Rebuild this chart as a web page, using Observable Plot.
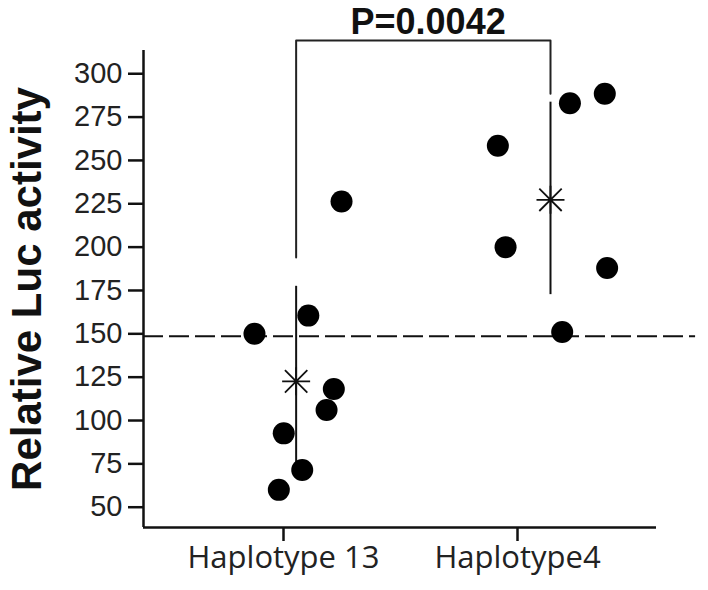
<!DOCTYPE html>
<html>
<head>
<meta charset="utf-8">
<script src="https://cdn.jsdelivr.net/npm/d3@7"></script>
<script src="https://cdn.jsdelivr.net/npm/@observablehq/plot@0.6"></script>
<style>
  html, body { margin: 0; padding: 0; background: #fff; }
  #chart svg { display: block; }
</style>
</head>
<body>
<div id="chart"></div>
<script>
// ---- data ----
const categories = ["Haplotype 13", "Haplotype4"];
const tickPositions = [1, 2];

const hap13Values = [160.5, 150, 118.2, 106.1, 92.6, 71.5, 60, 226.3];
const hap13X      = [1.106, 0.876, 1.215, 1.184, 1.001, 1.080, 0.980, 1.248];
const hap4Values  = [283, 288.5, 258.5, 200, 188, 151];
const hap4X       = [2.224, 2.373, 1.916, 1.949, 2.383, 2.191];

const groupCenters = [1.054, 2.141];
const means   = [122.6, 227.3];
const errLow  = [75.1, 172.6];
const errHigh = [177.4, 283.6];

const bracketTop = 319.2;
const bracketLegEnds = [194, 288.5];
const pLabel = "P=0.0042";
const pLabelX = 1.618;
const pLabelY = 329.5;

const refLineValue = 148.6;
const refLineEnd = 2.761;

const yTicks = [50, 75, 100, 125, 150, 175, 200, 225, 250, 275, 300];
const yDomain = [38.3, 313.4];
const xDomain = [0.4017, 2.594];
const yTitle = "Relative Luc activity";

// ---- derived tables ----
const points = [
  ...hap13Values.map((v, i) => ({x: hap13X[i], y: v})),
  ...hap4Values.map((v, i) => ({x: hap4X[i], y: v}))
];
const summary = groupCenters.map((c, i) => ({x: c, mean: means[i], lo: errLow[i], hi: errHigh[i]}));
const bracket = [
  {x: groupCenters[0], y: bracketLegEnds[0]},
  {x: groupCenters[0], y: bracketTop},
  {x: groupCenters[1], y: bracketTop},
  {x: groupCenters[1], y: bracketLegEnds[1]}
];

// 8-armed asterisk symbol
const star8 = {
  draw(context, size) {
    const r = Math.sqrt(size / Math.PI);
    const d = r * 0.8;
    context.moveTo(-r, 0); context.lineTo(r, 0);
    context.moveTo(0, -r); context.lineTo(0, r);
    context.moveTo(-d, -d); context.lineTo(d, d);
    context.moveTo(-d, d); context.lineTo(d, -d);
  }
};

const chart = Plot.plot({
  width: 708,
  height: 590,
  marginLeft: 143,
  marginRight: 52,
  marginTop: 50,
  marginBottom: 63,
  style: {background: "#fff", color: "#111"},
  x: {type: "linear", domain: xDomain},
  y: {type: "linear", domain: yDomain},
  marks: [
    // axis lines
    Plot.ruleX([xDomain[0]], {stroke: "#111", strokeWidth: 2.5}),
    Plot.ruleY([yDomain[0]], {stroke: "#111", strokeWidth: 2.5}),
    Plot.axisY({
      ticks: yTicks, tickSize: 15, tickPadding: 6, label: null,
      fontSize: 29, fontFamily: "Liberation Sans, Arial, sans-serif",
      strokeWidth: 2.5, stroke: "#111", fill: "#222"
    }),
    Plot.axisX({
      ticks: tickPositions, tickSize: 14, tickPadding: 4, label: null,
      tickFormat: (d) => categories[tickPositions.indexOf(d)],
      fontSize: 31, fontFamily: "Open Sans, Noto Sans, sans-serif",
      strokeWidth: 2.5, stroke: "#111", fill: "#222"
    }),
    // reference dashed line
    Plot.ruleY([refLineValue], {x1: xDomain[0], x2: refLineEnd, stroke: "#111", strokeWidth: 2, strokeDasharray: "20,6"}),
    // bracket
    Plot.line(bracket, {x: "x", y: "y", stroke: "#222", strokeWidth: 2}),
    Plot.text([pLabel], {x: pLabelX, y: pLabelY, text: (d) => d, fontSize: 36, fontWeight: "bold",
      fontFamily: "Liberation Sans, Arial, sans-serif", fill: "#111", textAnchor: "middle", lineAnchor: "middle"}),
    // error bars
    Plot.ruleX(summary, {x: "x", y1: "lo", y2: "hi", stroke: "#111", strokeWidth: 2}),
    // points
    Plot.dot(points, {x: "x", y: "y", r: 11, fill: "#000", stroke: "none"}),
    // means
    Plot.dot(summary, {x: "x", y: "mean", r: 14, symbol: star8, stroke: "#111", strokeWidth: 1.8, fill: "none"}),
    // y title
    Plot.text([yTitle], {frameAnchor: "left", dx: -116, rotate: -90, text: (d) => d,
      fontSize: 42, fontWeight: "bold", fontFamily: "Liberation Sans, Arial, sans-serif",
      fill: "#111", textAnchor: "middle", lineAnchor: "middle"})
  ]
});
document.getElementById("chart").appendChild(chart);
</script>
</body>
</html>
